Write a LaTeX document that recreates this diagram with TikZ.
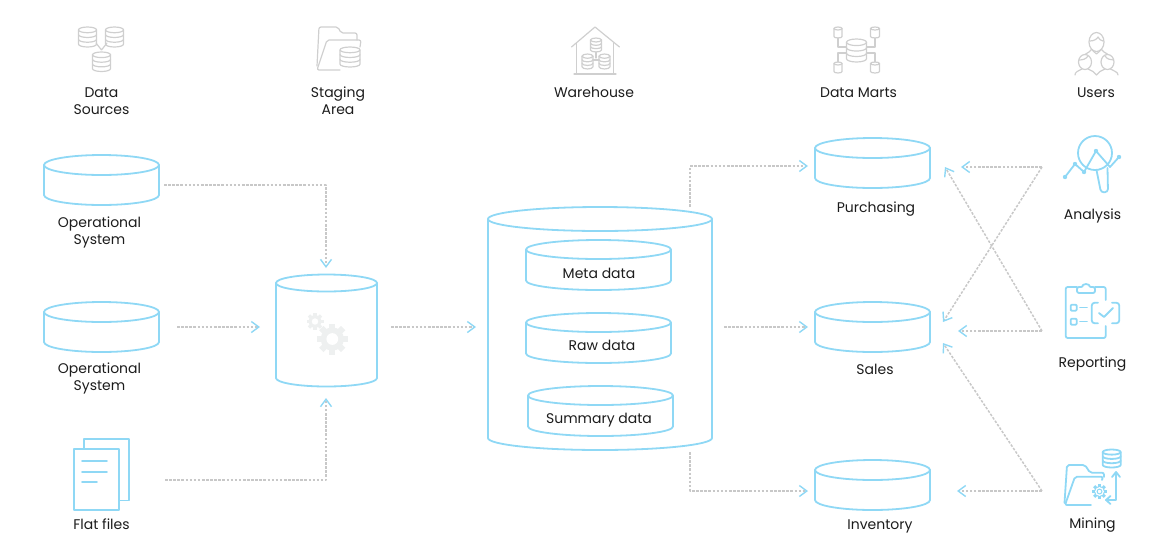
\documentclass[tikz,border=0pt]{standalone}
\usepackage{fontspec}
\setmainfont{Poppins}
\usetikzlibrary{arrows.meta}
\definecolor{lineblue}{HTML}{8FD8F5}
\definecolor{flowgrey}{HTML}{C8C8C8}
\definecolor{icongrey}{HTML}{CFCFCF}
\definecolor{geargrey}{HTML}{EEF0F0}
\definecolor{textblack}{HTML}{1C1C1C}
% store: name, centre x, top y, x radius, y radius, height
\newcommand{\storecan}[6]{%
  \draw[store] ({#2-#4},{#3+#5})--({#2-#4},{#3+#6-#5}) arc[start angle=180,end angle=0,x radius=#4,y radius=#5]--({#2+#4},{#3+#5});
  \draw[store] (#2,{#3+#5}) ellipse [x radius=#4,y radius=#5];
  \node[caption,minimum width=2*#4,minimum height=#6-2*#5] (#1) at (#2,{#3+#6/2+#5}) {};
}
% small database stack: centre x, top y, x radius, height
\newcommand{\dbstack}[4]{%
  \pgfmathsetmacro\dbry{#4/7}
  \pgfmathsetmacro\dbstep{(#4-2*\dbry)/3}
  \draw ({#1},{#2+\dbry}) ellipse [x radius=#3,y radius=\dbry];
  \draw ({#1-#3},{#2+\dbry})--({#1-#3},{#2+#4-\dbry}) arc[start angle=180,end angle=0,x radius=#3,y radius=\dbry]--({#1+#3},{#2+\dbry});
  \foreach \k in {1,2}
    \draw ({#1-#3},{#2+\dbry+\k*\dbstep}) arc[start angle=180,end angle=0,x radius=#3,y radius=\dbry];
}
% plain can: centre x, top y, x radius, height
\newcommand{\canicon}[4]{%
  \draw ({#1},{#2+1.5}) ellipse [x radius=#3,y radius=1.5];
  \draw ({#1-#3},{#2+1.5})--({#1-#3},{#2+#4-1.5}) arc[start angle=180,end angle=0,x radius=#3,y radius=1.5]--({#1+#3},{#2+1.5});
}
% toothed wheel: centre x, centre y, radius, colour of the hole
\newcommand{\gearwheel}[4]{%
  \foreach \a in {0,45,...,315}
    \fill[rotate around={\a:(#1,#2)}] ({#1-0.2*#3},{#2-#3}) rectangle ({#1+0.2*#3},{#2-0.6*#3});
  \fill (#1,#2) circle ({0.75*#3});
  \fill[#4] (#1,#2) circle ({0.38*#3});
}
\begin{document}
\begin{tikzpicture}[x=1pt,y=-1pt,line cap=round,line join=round,font=\fontsize{14}{17}\selectfont,text=textblack]
\tikzset{
  store/.style={draw=lineblue,line width=1.8pt},
  caption/.style={align=center,inner sep=0pt},
  flow/.style={draw=flowgrey,line width=1.5pt,line cap=butt,dash pattern=on 2.6pt off 1.5pt,-{Straight Barb[length=7.5pt,width=11pt,color=lineblue,line width=1.4pt]}},
  greyicon/.style={color=icongrey,line width=1.2pt},
  blueicon/.style={color=lineblue,line width=1.8pt}
}
\useasboundingbox (0,0) rectangle (1170,550);

% column headings
\node[caption] (headsources) at (101.5,101) {Data\\Sources};
\node[caption] (headstaging) at (338,101) {Staging\\Area};
\node[caption] (headwarehouse) at (594,92.5) {Warehouse};
\node[caption] (headmarts) at (858.5,92.5) {Data Marts};
\node[caption] (headusers) at (1096,92.5) {Users};

% stores
\storecan{source1}{101.5}{155}{57.5}{10}{50}
\storecan{source2}{101.5}{302}{57.5}{10}{50}
\storecan{staging}{326.5}{274.5}{50.5}{8.5}{112}
\storecan{warehouse}{600}{207}{112}{12}{243}
\storecan{meta}{598.5}{240}{72.5}{9.5}{50}
\storecan{raw}{598.5}{313}{72.5}{9.5}{50}
\storecan{summary}{600.5}{386}{72.5}{9.5}{50}
\storecan{purchasing}{872.5}{138}{57.5}{10}{50}
\storecan{sales}{872.5}{302}{57.5}{10}{50}
\storecan{inventory}{872.5}{460}{57.5}{10}{50}

% captions
\node[caption] (labelmeta) at (599,273) {Meta data};
\node[caption] (labelraw) at (602,345) {Raw data};
\node[caption] (labelsummary) at (599,420.5) {Summary data};
\node[caption] (labelsource1) at (99.5,232) {Operational\\System};
\node[caption] (labelsource2) at (99.5,378) {Operational\\System};
\node[caption] (labelfiles) at (101.5,524) {Flat files};
\node[caption] (labelpurchasing) at (876,209) {Purchasing};
\node[caption] (labelsales) at (875,369) {Sales};
\node[caption] (labelinventory) at (880,526) {Inventory};
\node[caption] (labelanalysis) at (1092.5,215.5) {Analysis};
\node[caption] (labelreporting) at (1092.5,364) {Reporting};
\node[caption] (labelmining) at (1092.5,525.5) {Mining};

% flow ends
\coordinate (a1) at (164,185);
\coordinate (a2) at (326,268);
\coordinate (b1) at (177,327);
\coordinate (b2) at (260,327);
\coordinate (c1) at (165,480);
\coordinate (c2) at (326,398);
\coordinate (d1) at (391,327);
\coordinate (d2) at (476,327);
\coordinate (e1) at (690,207);
\coordinate (e2) at (808,166);
\coordinate (f1) at (724,327);
\coordinate (f2) at (808,327);
\coordinate (g1) at (690,452);
\coordinate (g2) at (808,491);
\coordinate (analysisout) at (1042,167);
\coordinate (reportingout) at (1042,331);
\coordinate (miningout) at (1042,491);
\coordinate (purchasingin1) at (961,167);
\coordinate (purchasingin2) at (945,167);
\coordinate (salesin1) at (958,331);
\coordinate (salesin2) at (943,322);
\coordinate (salesin3) at (943,343);
\coordinate (inventoryin) at (957,491);

\draw[flow] (a1)-|(a2);
\draw[flow] (b1)--(b2);
\draw[flow] (c1)-|(c2);
\draw[flow] (d1)--(d2);
\draw[flow] (e1)|-(e2);
\draw[flow] (f1)--(f2);
\draw[flow] (g1)|-(g2);
\draw[flow] (analysisout)--(purchasingin1);
\draw[flow] (analysisout)--(salesin2);
\draw[flow] (reportingout)--(salesin1);
\draw[flow] (reportingout)--(purchasingin2);
\draw[flow] (miningout)--(inventoryin);
\draw[flow] (miningout)--(salesin3);

% gears in the staging store
\begin{scope}[color=geargrey]
  \gearwheel{332.3}{339}{15.5}{white}
  \gearwheel{315}{321.5}{8.5}{white}
\end{scope}

% flat files
\begin{scope}[blueicon]
  \draw (84,449)--(84,439)--(129,439)--(129,500.5)--(119,500.5);
  \draw (74,449) rectangle (119,510);
  \draw (82,461)--(107,461) (82,472)--(107,472) (82,482)--(97,482);
\end{scope}

% heading icons
\begin{scope}[greyicon]
  % sources
  \dbstack{87.5}{27}{9}{20}
  \dbstack{114.5}{27}{9}{20}
  \dbstack{101.5}{52}{9}{19.5}
  \draw (96,43)--(101.5,50) (107,43)--(101.5,50);
  % staging
  \draw[rounded corners=2pt] (317,66)--(319,27)--(338,27)--(341,33)--(357,33)--(357,40);
  \draw[rounded corners=2pt] (340,70)--(317,70)--(327,40)--(361,40)--(360,47);
  \dbstack{350}{47}{10}{20}
  % warehouse
  \draw (571.5,47)--(595,27)--(619.5,47);
  \draw (576.5,43)--(576.5,74) (613.5,43)--(613.5,74) (574,74)--(616,74);
  \dbstack{596}{38}{5.5}{14}
  \dbstack{587.5}{54}{5.5}{15}
  \dbstack{604.5}{54}{5.5}{15}
  \draw (596,52)--(596,58) (593,60)--(599,60);
  % marts
  \dbstack{856.5}{39}{10}{23}
  \canicon{838}{27}{4}{11}
  \canicon{875}{27}{4.5}{11}
  \canicon{838}{62}{4}{11}
  \canicon{875}{62}{4.5}{11}
  \draw (838,38)--(838,47)--(846.5,47) (875,38)--(875,47)--(866.5,47);
  \draw (838,62)--(838,53)--(846.5,53) (875,62)--(875,53)--(866.5,53);
  % users
  \draw (1096.5,42) ellipse [x radius=7.5,y radius=9.5];
  \draw (1090,41) .. controls (1094,41) and (1097,39) .. (1098,37) .. controls (1099,39) and (1101,41) .. (1103,41);
  \draw (1085,62) ellipse [x radius=6.5,y radius=7.5];
  \draw (1107.5,62) ellipse [x radius=6.5,y radius=7.5];
  \draw (1079,60) .. controls (1083,60) and (1086,59) .. (1088,56);
  \draw (1113.5,60) .. controls (1110,60) and (1107,59) .. (1105,56);
  \draw (1091,49)--(1096.5,54)--(1102,49);
  \draw (1091,50) .. controls (1089,53) and (1086,53) .. (1085,54.5);
  \draw (1102,50) .. controls (1104,53) and (1107,53) .. (1108,54.5);
  \draw (1075,75) .. controls (1075,72) and (1078,71) .. (1082,69);
  \draw (1088,69) .. controls (1092,71) and (1095,72) .. (1096.5,75) .. controls (1098,72) and (1101,71) .. (1105,69);
  \draw (1110.5,69) .. controls (1114,71) and (1118,72) .. (1118,75);
\end{scope}

% user icons
\begin{scope}[blueicon]
  % analysis
  \draw (1095,153) circle (17);
  \draw[rounded corners=3pt] (1096.5,170)--(1101,192.5)--(1108,192)--(1107.5,168);
  \draw (1065,177)--(1075,164)--(1084,172)--(1096,151)--(1110,167)--(1119,157);
  \fill (1065,177) circle (2.2) (1075,164) circle (2.2) (1084,172) circle (2.2) (1096,151) circle (2.2) (1119,157) circle (2.2);
  % reporting
  \draw[rounded corners=2pt] (1105.7,300)--(1105.7,287)--(1095,287);
  \draw[rounded corners=2pt] (1077,287)--(1065.7,287)--(1065.7,338)--(1105.7,338)--(1105.7,326);
  \draw[rounded corners=2pt] (1077,293)--(1077,287)--(1083,287) arc[start angle=180,end angle=360,radius=3]--(1095,287)--(1095,293)--cycle;
  \draw[rounded corners=1pt] (1070.7,304.7) rectangle (1076.7,310.7) (1070.7,318.7) rectangle (1076.7,324.7);
  \draw (1080,307.5)--(1087,307.5) (1080,321.5)--(1087,321.5);
  \draw[rounded corners=3pt] (1098,302.7)--(1091.7,302.7)--(1091.7,323.3)--(1098,323.3);
  \draw[rounded corners=3pt] (1112,302.7)--(1119.3,302.7)--(1119.3,323.3)--(1112,323.3);
  \draw (1099,313)--(1104,317)--(1113,308);
  % mining
  \draw[rounded corners=2pt] (1064.5,503)--(1067,465)--(1085,465)--(1090,472.7)--(1104,472.7)--(1104,477);
  \draw[rounded corners=2pt] (1091,505)--(1065,505)--(1075,476.7)--(1103,476.7)--(1102,480);
  \gearwheel{1099.5}{491.5}{7.5}{white}
  \fill[white] (1099.5,491.5) circle (4.4);
  \draw[line width=1pt] (1099.5,491.5) circle (2.4);
  \dbstack{1111.7}{449.5}{9}{18}
  \draw (1116,473)--(1116,500)--(1106,500);
  \draw (1112,477)--(1116,472)--(1120,477) (1110.5,496)--(1106,500)--(1110.5,504);
\end{scope}
\end{tikzpicture}
\end{document}
